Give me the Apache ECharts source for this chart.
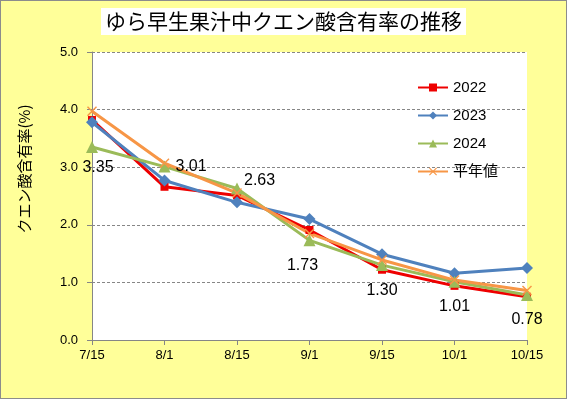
<!DOCTYPE html>
<html>
<head>
<meta charset="utf-8">
<script src="https://cdn.jsdelivr.net/npm/echarts@6/dist/echarts.min.js"></script>
<style>
  html, body { margin: 0; padding: 0; }
  #wrap { position: relative; width: 567px; height: 399px; background: #ffff99; }
  #plotBg { position: absolute; left: 92px; top: 52px; width: 435px; height: 288px; background: #ffffff; }
  #chart { position: absolute; left: 0; top: 0; width: 567px; height: 399px; }
  #frame { position: absolute; left: 0; top: 0; width: 567px; height: 399px; box-sizing: border-box; border: 1px solid #8c8c8c; pointer-events: none; }
</style>
</head>
<body>
<div id="wrap">
  <div id="plotBg"></div>
  <div id="chart"></div>
  <div id="frame"></div>
</div>
<script>
const dates = ['7/15', '8/1', '8/15', '9/1', '9/15', '10/1', '10/15'];
const y2022 = [3.82, 2.66, 2.51, 1.91, 1.22, 0.94, 0.75];
const y2023 = [3.78, 2.77, 2.39, 2.10, 1.49, 1.16, 1.25];
const y2024 = [3.35, 3.01, 2.63, 1.73, 1.30, 1.01, 0.78];
const yNormal = [3.97, 3.07, 2.55, 1.85, 1.39, 1.04, 0.86];

const font = 'Liberation Sans, Noto Sans CJK JP, sans-serif';
const cross = 'path://M0,1L1,0L5,4L9,0L10,1L6,5L10,9L9,10L5,6L1,10L0,9L4,5Z';

// label placement for the 2024 values
const labelPlace = [
  { position: 'bottom', offset: [6, 2] },
  { position: 'right', offset: [0, 0] },
  { position: 'right', offset: [-4, -8] },
  { position: 'bottom', offset: [-7, 6] },
  { position: 'bottom', offset: [0, 6] },
  { position: 'bottom', offset: [0, 6] },
  { position: 'bottom', offset: [0, 6] }
];

let myChart = echarts.init(document.getElementById('chart'));

let option = {
  backgroundColor: 'transparent',
  animation: false,
  title: {
    text: 'ゆら早生果汁中クエン酸含有率の推移',
    left: 'center',
    top: 8,
    backgroundColor: '#ffffff',
    padding: [3, 4],
    textStyle: {
      fontFamily: 'Noto Sans CJK JP',
      fontSize: 21,
      fontWeight: 'normal',
      color: '#000'
    }
  },
  legend: {
    orient: 'vertical',
    left: 412,
    top: 75,
    itemGap: 13,
    itemWidth: 30,
    itemHeight: 10,
    textStyle: { fontFamily: font, fontSize: 15, color: '#000' },
    data: ['2022', '2023', '2024', '平年値']
  },
  grid: {
    left: 92,
    right: 40,
    top: 52,
    bottom: 59
  },
  xAxis: {
    type: 'category',
    boundaryGap: false,
    data: dates,
    axisLine: { lineStyle: { color: '#868686' } },
    axisTick: { show: true, length: 5, alignWithLabel: true, lineStyle: { color: '#868686' } },
    axisLabel: { fontFamily: font, fontSize: 13, color: '#000', margin: 9 }
  },
  yAxis: {
    type: 'value',
    min: 0,
    max: 5,
    interval: 1,
    name: 'クエン酸含有率(%)',
    nameLocation: 'middle',
    nameGap: 60,
    nameTextStyle: {
      fontFamily: 'Noto Sans CJK JP', fontSize: 15, color: '#000',
      padding: [0, 0, 0, 54]
    },
    axisLine: { show: true, lineStyle: { color: '#868686' } },
    axisTick: { show: true, length: 5, lineStyle: { color: '#868686' } },
    axisLabel: {
      fontFamily: font, fontSize: 13, color: '#000', margin: 14,
      formatter: v => v.toFixed(1)
    },
    splitLine: { lineStyle: { color: '#868686', type: [3, 2], width: 1 } }
  },
  series: [
    {
      name: '2022',
      type: 'line',
      data: y2022,
      symbol: 'rect',
      symbolSize: 8,
      color: '#ee0000',
      lineStyle: { width: 3 }
    },
    {
      name: '2023',
      type: 'line',
      data: y2023,
      symbol: 'diamond',
      symbolSize: 12,
      color: '#4f81bd',
      lineStyle: { width: 3 }
    },
    {
      name: '2024',
      type: 'line',
      data: y2024.map((v, i) => ({ value: v, label: labelPlace[i] })),
      symbol: 'triangle',
      symbolSize: 12,
      color: '#9bbb59',
      lineStyle: { width: 3 },
      label: {
        show: true,
        fontFamily: font,
        fontSize: 16,
        color: '#000',
        formatter: p => p.value.toFixed(2)
      }
    },
    {
      name: '平年値',
      type: 'line',
      data: yNormal,
      symbol: cross,
      symbolSize: 10,
      color: '#f79646',
      lineStyle: { width: 3 }
    }
  ]
};

myChart.setOption(option);
</script>
</body>
</html>
